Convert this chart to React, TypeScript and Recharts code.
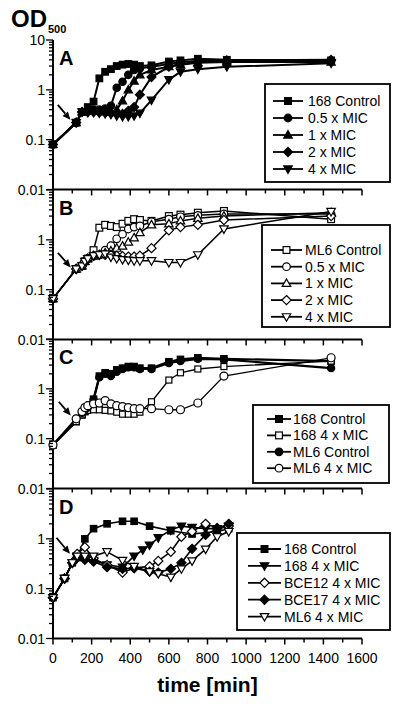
import React from "react";
import { LineChart, Line, XAxis, YAxis, ReferenceLine } from "recharts";

type Shape = "square" | "circle" | "triangle" | "diamond" | "triangleDown";

// axis ticks
const xTicks = [0, 100, 200, 300, 400, 500, 600, 700, 800, 900, 1000, 1100, 1200, 1300, 1400, 1500, 1600];
const xLabels = [0, 200, 400, 600, 800, 1000, 1200, 1400, 1600];
const yTicks = [
  0.01, 0.02, 0.03, 0.04, 0.05, 0.06, 0.07, 0.08, 0.09,
  0.1, 0.2, 0.3, 0.4, 0.5, 0.6, 0.7, 0.8, 0.9,
  1, 2, 3, 4, 5, 6, 7, 8, 9, 10,
];
const yLabels = [0.01, 0.1, 1, 10];

// panel A: strain 168
const timesA = [0, 120, 150, 180, 210, 240, 270, 300, 330, 360, 390, 420, 450, 510, 600, 660, 750, 900, 1440];
const aControl = [0.08, 0.22, 0.36, 0.45, 0.58, 1.7, 2.3, 2.6, 3.0, 3.2, 3.3, 3.2, 3.0, 3.1, 3.7, 3.9, 4.2, 4.0, 3.9];
const aHalf = [0.08, 0.22, 0.36, 0.38, 0.4, 0.4, 0.42, 0.48, 1.1, 1.45, 2.0, 2.5, 2.7, 2.9, 3.3, 3.6, 3.8, 3.8, 3.7];
const aOne = [0.08, 0.22, 0.36, 0.37, 0.38, 0.37, 0.36, 0.36, 0.4, 0.6, 1.0, 1.5, 2.0, 2.5, 2.9, 3.2, 3.5, 3.6, 3.6];
const aTwo = [0.08, 0.22, 0.36, 0.36, 0.36, 0.35, 0.35, 0.34, 0.33, 0.33, 0.38, 0.45, 0.8, 1.8, 2.9, 3.3, 3.6, 3.9, 4.0];
const aFour = [0.08, 0.22, 0.36, 0.35, 0.35, 0.34, 0.33, 0.32, 0.3, 0.29, 0.29, 0.3, 0.34, 0.62, 1.6, 2.3, 2.6, 2.9, 3.4];

// panel B: strain ML6
const timesB = [0, 120, 150, 165, 180, 210, 240, 270, 300, 330, 360, 390, 420, 450, 510, 600, 660, 750, 885, 1440];
const bControl = [0.066, 0.26, 0.3, 0.37, 0.42, 0.62, 1.75, 2.0, 1.9, 1.8, 2.1, 2.4, 2.6, 2.5, 2.4, 3.0, 3.2, 3.5, 3.8, 2.6];
const bHalf = [0.066, 0.26, 0.3, 0.37, 0.42, 0.47, 0.5, 0.62, 0.76, 1.05, 1.3, 1.65, 1.8, 1.9, 2.3, 2.6, 2.9, 3.1, 3.3, 3.3];
const bOne = [0.066, 0.26, 0.3, 0.37, 0.42, 0.47, 0.5, 0.55, 0.6, 0.68, 0.75, 0.9, 1.1, 1.4, 2.0, 2.1, 2.4, 2.7, 3.0, 3.5];
const bTwo = [0.066, 0.26, 0.3, 0.37, 0.42, 0.48, 0.5, 0.5, 0.5, 0.48, 0.47, 0.46, 0.46, 0.48, 0.68, 1.55, 1.8, 2.0, 2.5, 3.0];
const bFour = [0.066, 0.26, 0.3, 0.37, 0.42, 0.48, 0.5, 0.52, 0.45, 0.42, 0.4, 0.39, 0.38, 0.38, 0.38, 0.35, 0.35, 0.5, 1.65, 3.7];

// panel C: 168 vs ML6
const timesC = [0, 120, 150, 165, 180, 210, 240, 270, 300, 330, 360, 390, 420, 450, 510, 600, 660, 750, 885, 1440];
const c168Control = [0.075, 0.22, 0.3, 0.35, 0.4, 0.62, 1.8, 2.1, 2.0, 2.4, 2.6, 2.8, 2.8, 2.6, 2.6, 3.5, 3.9, 4.2, 4.0, 3.6];
const c168Four = [0.075, 0.22, 0.3, 0.35, 0.37, 0.38, 0.38, 0.37, 0.36, 0.34, 0.31, 0.31, 0.31, 0.34, 0.55, 1.5, 2.1, 2.5, 2.8, 3.6];
const cMl6Control = [0.075, 0.25, 0.33, 0.38, 0.42, 0.6, 1.7, 2.0, 1.8, 2.2, 2.5, 2.7, 2.7, 2.5, 2.5, 3.3, 3.6, 4.0, 3.9, 2.6];
const cMl6Four = [0.075, 0.25, 0.35, 0.42, 0.46, 0.5, 0.52, 0.58, 0.5, 0.46, 0.44, 0.42, 0.4, 0.4, 0.4, 0.38, 0.38, 0.52, 1.8, 4.2];

// panel D: mutants at 4 x MIC
const timesD = [0, 60, 100, 125, 165, 210, 280, 360, 420, 465, 500, 545, 610, 665, 720, 790, 850, 910];
const d168Control = [0.066, 0.16, 0.33, 0.42, 1.0, 1.6, 2.0, 2.25, 2.25, null, 1.8, null, 1.45, null, 1.25, null, 1.4, 1.6];
const d168Four = [0.066, 0.16, 0.33, 0.42, 0.4, 0.37, 0.3, 0.27, 0.45, 0.6, 0.75, 1.05, 1.5, 1.8, 1.7, 1.6, 1.6, 1.8];
const dBce12Four = [0.066, 0.16, 0.33, 0.5, 0.68, 0.4, 0.3, 0.21, 0.26, null, 0.28, 0.36, 0.55, 1.1, 1.4, 2.0, 1.65, 1.8];
const dBce17Four = [0.066, 0.16, 0.33, 0.42, 0.38, 0.35, 0.27, 0.25, 0.26, null, 0.22, 0.21, 0.25, 0.33, 0.63, 1.2, 1.6, 2.0];
const dMl6Four = [0.066, 0.16, 0.33, 0.45, 0.45, 0.45, 0.55, 0.37, 0.28, null, 0.22, 0.2, 0.17, 0.25, 0.36, 0.62, 1.1, 1.4];

interface Series {
  name: string;
  values: (number | null)[];
  shape: Shape;
  filled: boolean;
  size: number;
  width: number;
}

const FONT = "'Liberation Sans', Arial, sans-serif";
const PLOT_H = 149.5;
const TOP_PAD = 12;

function Marker({ cx, cy, shape, filled, s }: { cx: number; cy: number; shape: Shape; filled: boolean; s: number }) {
  if (cx == null || cy == null) return null;
  const p = { fill: filled ? "#000" : "#fff", stroke: "#000", strokeWidth: 1.2 };
  switch (shape) {
    case "square":
      return <rect x={cx - s} y={cy - s} width={2 * s} height={2 * s} {...p} />;
    case "circle":
      return <circle cx={cx} cy={cy} r={s + 0.4} {...p} />;
    case "triangle":
      return <polygon points={`${cx},${cy - s * 1.3} ${cx + s * 1.25},${cy + s * 0.9} ${cx - s * 1.25},${cy + s * 0.9}`} {...p} />;
    case "triangleDown":
      return <polygon points={`${cx},${cy + s * 1.3} ${cx + s * 1.25},${cy - s * 0.9} ${cx - s * 1.25},${cy - s * 0.9}`} {...p} />;
    default:
      return <polygon points={`${cx},${cy - s * 1.35} ${cx + s * 1.35},${cy} ${cx},${cy + s * 1.35} ${cx - s * 1.35},${cy}`} {...p} />;
  }
}

function YTick(props: any) {
  const { x, y, payload, showTop } = props;
  const v = payload.value;
  const major = yLabels.includes(v);
  const showLabel = major && (v !== 10 || showTop);
  return (
    <g>
      <line x1={x - (major ? 7 : 4)} x2={x} y1={y} y2={y} stroke="#000" strokeWidth={1.3} />
      {showLabel && (
        <text x={x - 8} y={y + 5} textAnchor="end" fontSize={14} fontFamily={FONT} fill="#000">
          {String(v)}
        </text>
      )}
    </g>
  );
}

function XTick(props: any) {
  const { x, y, payload, showLabel } = props;
  const v = payload.value;
  const major = xLabels.includes(v);
  return (
    <g>
      <line x1={x} x2={x} y1={y} y2={y + (major ? 6 : 4)} stroke="#000" strokeWidth={1.5} />
      {showLabel && major && (
        <text x={x} y={y + 24} textAnchor="middle" fontSize={14} fontFamily={FONT} fill="#000">
          {v}
        </text>
      )}
    </g>
  );
}

function arrowShape(props: any) {
  const { x1, y1, x2, y2 } = props;
  const ang = Math.atan2(y2 - y1, x2 - x1);
  const len = 8;
  const w = 3.5;
  const bx = x2 - len * Math.cos(ang);
  const by = y2 - len * Math.sin(ang);
  const px = -Math.sin(ang) * w;
  const py = Math.cos(ang) * w;
  return (
    <g>
      <line x1={x1} y1={y1} x2={bx} y2={by} stroke="#000" strokeWidth={1.8} />
      <polygon points={`${x2},${y2} ${bx + px},${by + py} ${bx - px},${by - py}`} fill="#000" />
    </g>
  );
}

function Panel({
  top,
  times,
  series,
  showTop,
  last,
  arrow,
}: {
  top: number;
  times: number[];
  series: Series[];
  showTop: boolean;
  last: boolean;
  arrow: [number, number, number, number];
}) {
  const axisH = last ? 40 : 10;
  return (
    <div style={{ position: "absolute", left: 0, top: top - TOP_PAD }}>
      <LineChart width={400} height={TOP_PAD + PLOT_H + axisH} margin={{ top: TOP_PAD, right: 38, bottom: 0, left: 0 }}>
        <XAxis
          dataKey="t"
          type="number"
          domain={[0, 1600]}
          ticks={xTicks}
          interval={0}
          tickSize={0}
          tickMargin={0}
          tickLine={false}
          height={axisH}
          axisLine={{ stroke: "#000", strokeWidth: 2 }}
          tick={(p: any) => <XTick {...p} showLabel={last} />}
        />
        <YAxis
          type="number"
          scale="log"
          domain={[0.01, 10]}
          ticks={yTicks}
          interval={0}
          tickSize={0}
          tickMargin={0}
          tickLine={false}
          width={53}
          axisLine={{ stroke: "#000", strokeWidth: 2 }}
          tick={(p: any) => <YTick {...p} showTop={showTop} />}
        />
        <ReferenceLine
          segment={[
            { x: arrow[0], y: arrow[1] },
            { x: arrow[2], y: arrow[3] },
          ]}
          shape={arrowShape}
        />
        {series.map((s) => {
          const data = times
            .map((t, i) => ({ t, v: s.values[i] }))
            .filter((d) => d.v != null);
          return (
            <Line
              key={s.name}
              data={data}
              dataKey="v"
              type="linear"
              stroke="#000"
              strokeWidth={s.width}
              isAnimationActive={false}
              activeDot={false}
              dot={(p: any) => (
                <Marker key={`${s.name}-${p.index}`} cx={p.cx} cy={p.cy} shape={s.shape} filled={s.filled} s={s.size} />
              )}
            />
          );
        })}
      </LineChart>
    </div>
  );
}

function LegendBox({
  x,
  y,
  w,
  h,
  row0,
  step,
  lx1,
  lx2,
  tx,
  series,
}: {
  x: number;
  y: number;
  w: number;
  h: number;
  row0: number;
  step: number;
  lx1: number;
  lx2: number;
  tx: number;
  series: Series[];
}) {
  return (
    <g>
      <rect x={x} y={y} width={w} height={h} fill="#fff" stroke="#000" strokeWidth={1.8} />
      {series.map((s, i) => {
        const cy = row0 + i * step;
        return (
          <g key={s.name}>
            <line x1={lx1} x2={lx2} y1={cy} y2={cy} stroke="#000" strokeWidth={1.8} />
            <Marker cx={(lx1 + lx2) / 2} cy={cy} shape={s.shape} filled={s.filled} s={3.4} />
            <text x={tx} y={cy + 5} fontSize={14} fontFamily={FONT} fill="#000">
              {s.name}
            </text>
          </g>
        );
      })}
    </g>
  );
}

const seriesA: Series[] = [
  { name: "168 Control", values: aControl, shape: "square", filled: true, size: 3.3, width: 2 },
  { name: "0.5 x MIC", values: aHalf, shape: "circle", filled: true, size: 3.3, width: 2 },
  { name: "1 x MIC", values: aOne, shape: "triangle", filled: true, size: 3.3, width: 2 },
  { name: "2 x MIC", values: aTwo, shape: "diamond", filled: true, size: 3.3, width: 2 },
  { name: "4 x MIC", values: aFour, shape: "triangleDown", filled: true, size: 3.3, width: 2 },
];
const seriesB: Series[] = [
  { name: "ML6 Control", values: bControl, shape: "square", filled: false, size: 3.4, width: 1.5 },
  { name: "0.5 x MIC", values: bHalf, shape: "circle", filled: false, size: 3.4, width: 1.5 },
  { name: "1 x MIC", values: bOne, shape: "triangle", filled: false, size: 3.4, width: 1.5 },
  { name: "2 x MIC", values: bTwo, shape: "diamond", filled: false, size: 3.4, width: 1.5 },
  { name: "4 x MIC", values: bFour, shape: "triangleDown", filled: false, size: 3.4, width: 1.5 },
];
const seriesC: Series[] = [
  { name: "168 Control", values: c168Control, shape: "square", filled: true, size: 3.2, width: 2.2 },
  { name: "168 4 x MIC", values: c168Four, shape: "square", filled: false, size: 3, width: 1.3 },
  { name: "ML6 Control", values: cMl6Control, shape: "circle", filled: true, size: 3.2, width: 2.2 },
  { name: "ML6 4 x MIC", values: cMl6Four, shape: "circle", filled: false, size: 3.6, width: 1.3 },
];
const seriesD: Series[] = [
  { name: "168 Control", values: d168Control, shape: "square", filled: true, size: 3.2, width: 1.6 },
  { name: "168 4 x MIC", values: d168Four, shape: "triangleDown", filled: true, size: 3.4, width: 1.6 },
  { name: "BCE12 4 x MIC", values: dBce12Four, shape: "diamond", filled: false, size: 3.4, width: 1.6 },
  { name: "BCE17 4 x MIC", values: dBce17Four, shape: "diamond", filled: true, size: 3.4, width: 1.6 },
  { name: "ML6 4 x MIC", values: dMl6Four, shape: "triangleDown", filled: false, size: 3.4, width: 1.6 },
];

const panelTops = [40, 189.5, 339, 488.5];

export default function App() {
  return (
    <div style={{ position: "absolute", left: 0, top: 0, width: 400, height: 712, background: "#fff", fontFamily: FONT }}>
      <Panel top={panelTops[0]} times={timesA} series={seriesA} showTop last={false} arrow={[25, 0.5, 90, 0.25]} />
      <Panel top={panelTops[1]} times={timesB} series={seriesB} showTop={false} last={false} arrow={[25, 0.55, 92, 0.28]} />
      <Panel top={panelTops[2]} times={timesC} series={seriesC} showTop={false} last={false} arrow={[30, 0.55, 92, 0.29]} />
      <Panel top={panelTops[3]} times={timesD} series={seriesD} showTop={false} last arrow={[18, 1.05, 88, 0.5]} />
      <svg width={400} height={712} style={{ position: "absolute", left: 0, top: 0, pointerEvents: "none" }}>
        <text x={11} y={27} fontSize={24} fontWeight="bold" fontFamily={FONT} fill="#000">
          OD
        </text>
        <text x={48} y={33} fontSize={11} fontWeight="bold" fontFamily={FONT} fill="#000">
          500
        </text>
        {["A", "B", "C", "D"].map((l, i) => (
          <text key={l} x={59} y={panelTops[i] + 25} fontSize={20} fontWeight="bold" fontFamily={FONT} fill="#000">
            {l}
          </text>
        ))}
        <LegendBox x={265} y={84} w={125} h={98} row0={101} step={17} lx1={273} lx2={303} tx={308} series={seriesA} />
        <LegendBox x={262} y={225} w={128} h={102} row0={250} step={16.7} lx1={271} lx2={302} tx={305} series={seriesB} />
        <LegendBox x={253} y={405} w={136} h={78} row0={419} step={16.4} lx1={267} lx2={291} tx={293} series={seriesC} />
        <LegendBox x={237} y={533} w={153} h={97} row0={549} step={16.9} lx1={248} lx2={281} tx={284} series={seriesD} />
        <text x={207.5} y={692} textAnchor="middle" fontSize={21} fontWeight="bold" fontFamily={FONT} fill="#000">
          time [min]
        </text>
      </svg>
    </div>
  );
}
